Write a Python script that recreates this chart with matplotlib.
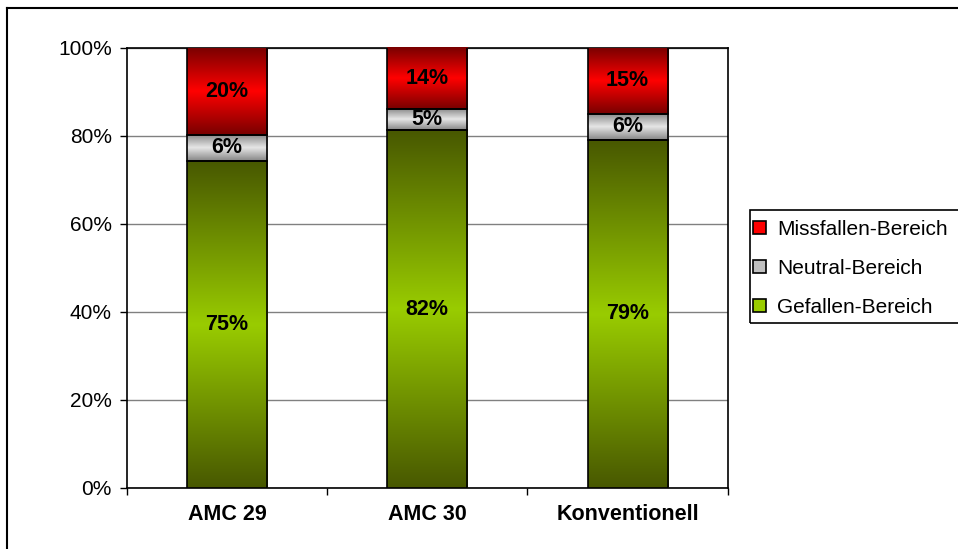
import numpy as np
import matplotlib
matplotlib.use("Agg")
import matplotlib.pyplot as plt
from matplotlib.patches import Patch, Rectangle
from matplotlib.colors import LinearSegmentedColormap
from matplotlib.lines import Line2D
from matplotlib.ticker import FuncFormatter, MultipleLocator

plt.rcParams['font.family'] = ['Liberation Sans', 'DejaVu Sans']

categories = ["AMC 29", "AMC 30", "Konventionell"]
gefallen = [75, 82, 79]
neutral = [6, 5, 6]
missfallen = [20, 14, 15]

series = [
    ("Gefallen-Bereich", gefallen, ("#485800", "#99cc00"), "#99cc00"),
    ("Neutral-Bereich", neutral, ("#858585", "#e6e6e6"), "#c0c0c0"),
    ("Missfallen-Bereich", missfallen, ("#780000", "#ff0000"), "#ff0000"),
]

W, H = 958, 549
fig = plt.figure(figsize=(W / 100, H / 100), dpi=100)
ax = fig.add_axes([127 / W, 1 - 487.7 / H, 600.7 / W, 440.2 / H])

x = np.arange(len(categories))
totals = np.array(gefallen) + np.array(neutral) + np.array(missfallen)
bottom = np.zeros(len(categories))

# vertical gradient: dark edges, bright centre
t = np.linspace(0, 1, 256)
profile = 1 - np.abs(2 * t - 1)

for name, vals, (edge_col, mid_col), _ in series:
    heights = np.array(vals) / totals * 100
    cmap = LinearSegmentedColormap.from_list(name, [edge_col, mid_col])
    bars = ax.bar(x, heights, width=0.4, bottom=bottom, facecolor="none",
                  edgecolor="black", linewidth=1.2, zorder=4)
    for bar, v in zip(bars, vals):
        bx, by = bar.get_x(), bar.get_y()
        bw, bh = bar.get_width(), bar.get_height()
        img = ax.imshow(profile.reshape(-1, 1), cmap=cmap, aspect="auto",
                        extent=[bx, bx + bw, by, by + bh], origin="lower",
                        vmin=0, vmax=1, zorder=3, interpolation="bilinear")
        img.set_clip_path(bar)
        ax.text(bx + bw / 2, by + bh / 2, f"{v}%", ha="center", va="center",
                fontsize=15.5, fontweight="bold", color="black", zorder=5)
    bottom = bottom + heights

ax.set_xlim(-0.5, len(categories) - 0.5)
ax.set_ylim(0, 100)
ax.yaxis.set_major_locator(MultipleLocator(20))
ax.yaxis.set_major_formatter(FuncFormatter(lambda v, p: f"{v:.0f}%"))
ax.grid(axis="y", color="#808080", linewidth=1, zorder=1)
ax.set_axisbelow(True)

ax.set_xticks(x)
ax.set_xticklabels(categories, fontsize=15.5, fontweight="bold")
ax.tick_params(axis="x", length=0, pad=12)
ax.set_xticks(np.arange(-0.5, len(categories)), minor=True)
ax.tick_params(axis="x", which="minor", length=5, width=1, direction="out")
ax.tick_params(axis="y", length=5, width=1, direction="out", labelsize=15, pad=6)

for s in ax.spines.values():
    s.set_color("black")
    s.set_linewidth(1.2)

# legend entries without their own frame; the box is drawn separately
handles = [Patch(facecolor=c, edgecolor="black", linewidth=1.2, label=n)
           for n, _, _, c in reversed(series)]
leg = fig.legend(handles=handles, loc="upper left",
                 bbox_to_anchor=(753 / W, 1 - 220 / H),
                 fontsize=15, frameon=False, borderaxespad=0, borderpad=0,
                 handlelength=0.6, handleheight=0.6, handletextpad=0.55,
                 labelspacing=0.95)
fig.add_artist(Rectangle((750 / W, 1 - 323 / H), 215 / W, 113 / H,
                         transform=fig.transFigure, facecolor="none",
                         edgecolor="black", linewidth=1.2))

# outer chart frame
fig.add_artist(Line2D([7 / W, 7 / W], [0, 1 - 8 / H], color="black",
                      linewidth=1.5, transform=fig.transFigure))
fig.add_artist(Line2D([7 / W, 1], [1 - 8 / H, 1 - 8 / H], color="black",
                      linewidth=1.5, transform=fig.transFigure))

fig.savefig("out.png", dpi=100)
